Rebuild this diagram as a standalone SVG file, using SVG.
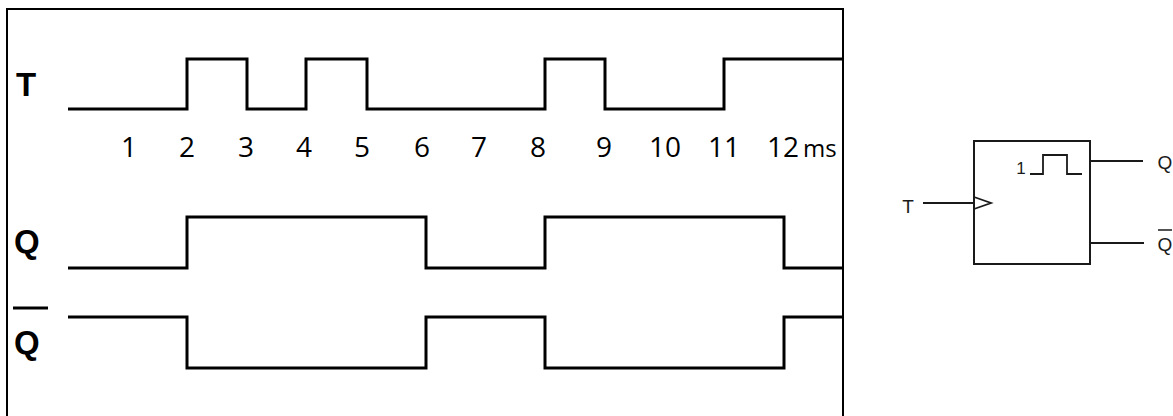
<svg xmlns="http://www.w3.org/2000/svg" width="1173" height="416" viewBox="0 0 1173 416">
<style>
.wave{fill:none;stroke:#000;stroke-width:3;stroke-linejoin:miter;stroke-linecap:butt}
.sig{font-family:"Liberation Sans",Arial,sans-serif;font-weight:bold;font-size:33px;fill:#000}
.tick{font-family:"Open Sans","Liberation Sans",sans-serif;font-size:28px;fill:#000;text-anchor:middle}
.ff{fill:none;stroke:#1a1a1a;stroke-width:2}
.pin{fill:none;stroke:#1a1a1a;stroke-width:1.8}
.fft{font-family:"Liberation Sans",Arial,sans-serif;font-size:19px;fill:#1a1a1a}
</style>
<rect width="1173" height="416" fill="#fff"/>
<g id="timing-chart">
<rect x="7" y="9" width="836" height="430" fill="none" stroke="#000" stroke-width="2"/>
<g id="labels">
<text class="sig" x="16" y="96">T</text>
<text class="sig" x="14" y="253">Q</text>
<line x1="13" y1="308" x2="48" y2="308" stroke="#000" stroke-width="3"/>
<text class="sig" x="14" y="354">Q</text>
</g>
<g id="time-axis">
<text class="tick" x="129" y="157">1</text>
<text class="tick" x="187" y="157">2</text>
<text class="tick" x="246" y="157">3</text>
<text class="tick" x="304" y="157">4</text>
<text class="tick" x="362" y="157">5</text>
<text class="tick" x="422" y="157">6</text>
<text class="tick" x="479" y="157">7</text>
<text class="tick" x="538" y="157">8</text>
<text class="tick" x="604" y="157">9</text>
<text class="tick" x="665" y="157">10</text>
<text class="tick" x="724" y="157">11</text>
<text class="tick" x="783" y="157">12</text>
<text x="803" y="157" font-family="'Open Sans','Liberation Sans',sans-serif" font-size="24" fill="#000">ms</text>
</g>
<g id="waveforms">
<path id="wave-T" class="wave" d="M68,109 H187 V59 H247 V109 H306 V59 H367 V109 H545 V59 H605 V109 H724 V59 H843"/>
<path id="wave-Q" class="wave" d="M68,268 H187 V217 H426 V268 H545 V217 H784 V268 H843"/>
<path id="wave-Qbar" class="wave" d="M68,317 H187 V368 H426 V317 H545 V368 H784 V317 H843"/>
</g>
</g>
<g id="t-flip-flop">
<rect class="ff" x="974" y="141" width="116" height="123"/>
<path class="pin" d="M974,197 L991,203 L974,209"/>
<text x="1021" y="174" font-family="'Liberation Sans',Arial,sans-serif" font-size="17" fill="#1a1a1a" text-anchor="middle">1</text>
<path class="pin" d="M1030,174 H1043 V155 H1067 V174 H1082"/>
</g>
<g id="connectors">
<line class="pin" x1="923" y1="203" x2="974" y2="203"/>
<line class="pin" x1="1090" y1="161" x2="1143" y2="161"/>
<line class="pin" x1="1090" y1="243" x2="1144" y2="243"/>
</g>
<g id="pin-labels">
<text class="fft" x="908" y="213" text-anchor="middle">T</text>
<text class="fft" x="1165" y="169" text-anchor="middle">Q</text>
<text class="fft" x="1165" y="251" text-anchor="middle">Q</text>
<line x1="1158" y1="230" x2="1172" y2="230" stroke="#1a1a1a" stroke-width="1.5"/>
</g>
</svg>
